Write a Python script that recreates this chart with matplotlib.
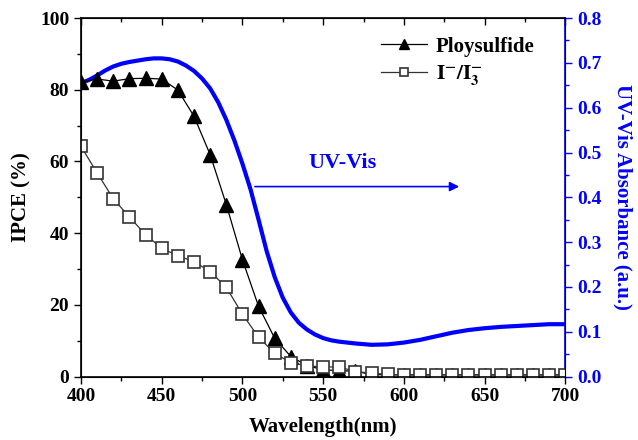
import numpy as np
import matplotlib
matplotlib.use('Agg')
import matplotlib.pyplot as plt

#fonts - times-like bold everywhere
plt.rcParams['font.family'] = 'Liberation Serif'
plt.rcParams['font.weight'] = 'bold'
plt.rcParams['mathtext.fontset'] = 'stix'

#IPCE data, 10 nm steps
wl_ipce = list(range(400, 701, 10))
ploysulfide = [82.1, 83.0, 82.4, 83.1, 83.2, 83.0, 79.9, 72.6, 61.9, 48.0,
               32.6, 19.6, 10.7, 5.6, 3.1, 1.9, 1.7, 1.5, 0.6, 0.5,
               0.5, 0.5, 0.5, 0.5, 0.5, 0.5, 0.5, 0.5, 0.5, 0.5, 0.5]
iodide = [64.2, 56.8, 49.6, 44.5, 39.6, 35.8, 33.7, 32.1, 29.3, 24.9,
          17.4, 11.0, 6.5, 3.9, 3.0, 2.7, 2.7, 1.4, 1.0, 0.6,
          0.5, 0.5, 0.5, 0.5, 0.5, 0.5, 0.5, 0.5, 0.5, 0.5, 0.5]

#UV-Vis absorbance
wl_uv = [400, 405, 410, 415, 420, 425, 430, 435, 440, 445, 450, 455, 460, 465,
         470, 475, 480, 485, 490, 495, 500, 505, 510, 515, 520, 525, 530, 535,
         540, 545, 550, 555, 560, 570, 580, 590, 600, 610, 620, 630, 640, 650,
         660, 670, 680, 690, 700]
absorb = [0.655, 0.662, 0.672, 0.683, 0.692, 0.698, 0.702, 0.705, 0.708, 0.710,
          0.710, 0.708, 0.703, 0.694, 0.682, 0.665, 0.643, 0.612, 0.573, 0.527,
          0.475, 0.418, 0.350, 0.280, 0.222, 0.176, 0.143, 0.120, 0.105, 0.094,
          0.086, 0.081, 0.078, 0.074, 0.071, 0.072, 0.076, 0.082, 0.090, 0.098,
          0.104, 0.108, 0.111, 0.113, 0.115, 0.117, 0.117]

fig = plt.figure(figsize=(6.38, 4.4), dpi=100)
ax = fig.add_axes([0.127, 0.144, 0.759, 0.815])

#second axis for absorbance (drawn behind the IPCE markers)
ax2 = ax.twinx()
ax.set_zorder(ax2.get_zorder() + 1)
ax.patch.set_visible(False)

ax.plot(wl_ipce, ploysulfide, '-', color='black', lw=0.9, marker='^', ms=9.5,
        mfc='black', mec='black', label='Ploysulfide')
ax.plot(wl_ipce, iodide, '-', color='#333333', lw=0.9, marker='s', ms=8.5,
        mfc='white', mec='#333333', mew=1.2, label=r'$\mathbf{I^{-}/I_{3}^{-}}$')

ax.set_xlim(400, 700)
ax.set_ylim(0, 100)
ax.set_xticks([400, 450, 500, 550, 600, 650, 700])
ax.set_xticks(np.arange(425, 700, 50), minor=True)
ax.set_yticks([0, 20, 40, 60, 80, 100])
ax.set_yticks(np.arange(10, 100, 20), minor=True)
ax.tick_params(axis='both', which='major', labelsize=14, length=5, width=1)
ax.tick_params(axis='both', which='minor', length=3, width=1)
ax.tick_params(axis='x', which='both', top=True, direction='out')
ax.set_xlabel('Wavelength(nm)', fontsize=15, fontweight='bold', labelpad=8)
ax.set_ylabel('IPCE (%)', fontsize=15, fontweight='bold', labelpad=6)
for s in ['left', 'bottom', 'top']:
    ax.spines[s].set_linewidth(1.2)

#top ticks point inward
for t in ax.xaxis.get_major_ticks() + ax.xaxis.get_minor_ticks():
    t.tick2line.set_marker(3)

ax2.plot(wl_uv, absorb, '-', color='#0000ff', lw=3.0, solid_capstyle='round')
ax2.set_ylim(0, 0.8)
ax2.set_yticks(np.arange(0, 0.81, 0.1))
ax2.set_yticks(np.arange(0.05, 0.8, 0.1), minor=True)
ax2.yaxis.set_major_formatter(matplotlib.ticker.FormatStrFormatter('%.1f'))
ax2.tick_params(axis='y', which='major', labelsize=14, length=5, width=1,
                colors='#0000ff')
ax2.tick_params(axis='y', which='minor', length=3, width=1, colors='#0000ff')
ax2.spines['right'].set_color('#0000ff')
ax2.spines['right'].set_linewidth(1.2)
ax2.set_ylabel('UV-Vis Absorbance (a.u.)', fontsize=15, fontweight='bold',
               color='#0000ff', rotation=270, labelpad=22)

#arrow pointing to the right axis
ax.annotate('', xy=(636, 53), xytext=(506, 53),
            arrowprops=dict(arrowstyle='-|>', color='#0000ff', lw=1.2,
                            mutation_scale=14))
ax.text(562, 59.5, 'UV-Vis', color='#0000ff', fontsize=16, fontweight='bold',
        ha='center', va='center')

leg = ax.legend(loc='upper right', bbox_to_anchor=(0.975, 1.0), frameon=False,
                fontsize=15, handlelength=2.2, markerscale=0.7,
                labelspacing=0.3, handletextpad=0.4)

fig.savefig('out.png', dpi=100)
